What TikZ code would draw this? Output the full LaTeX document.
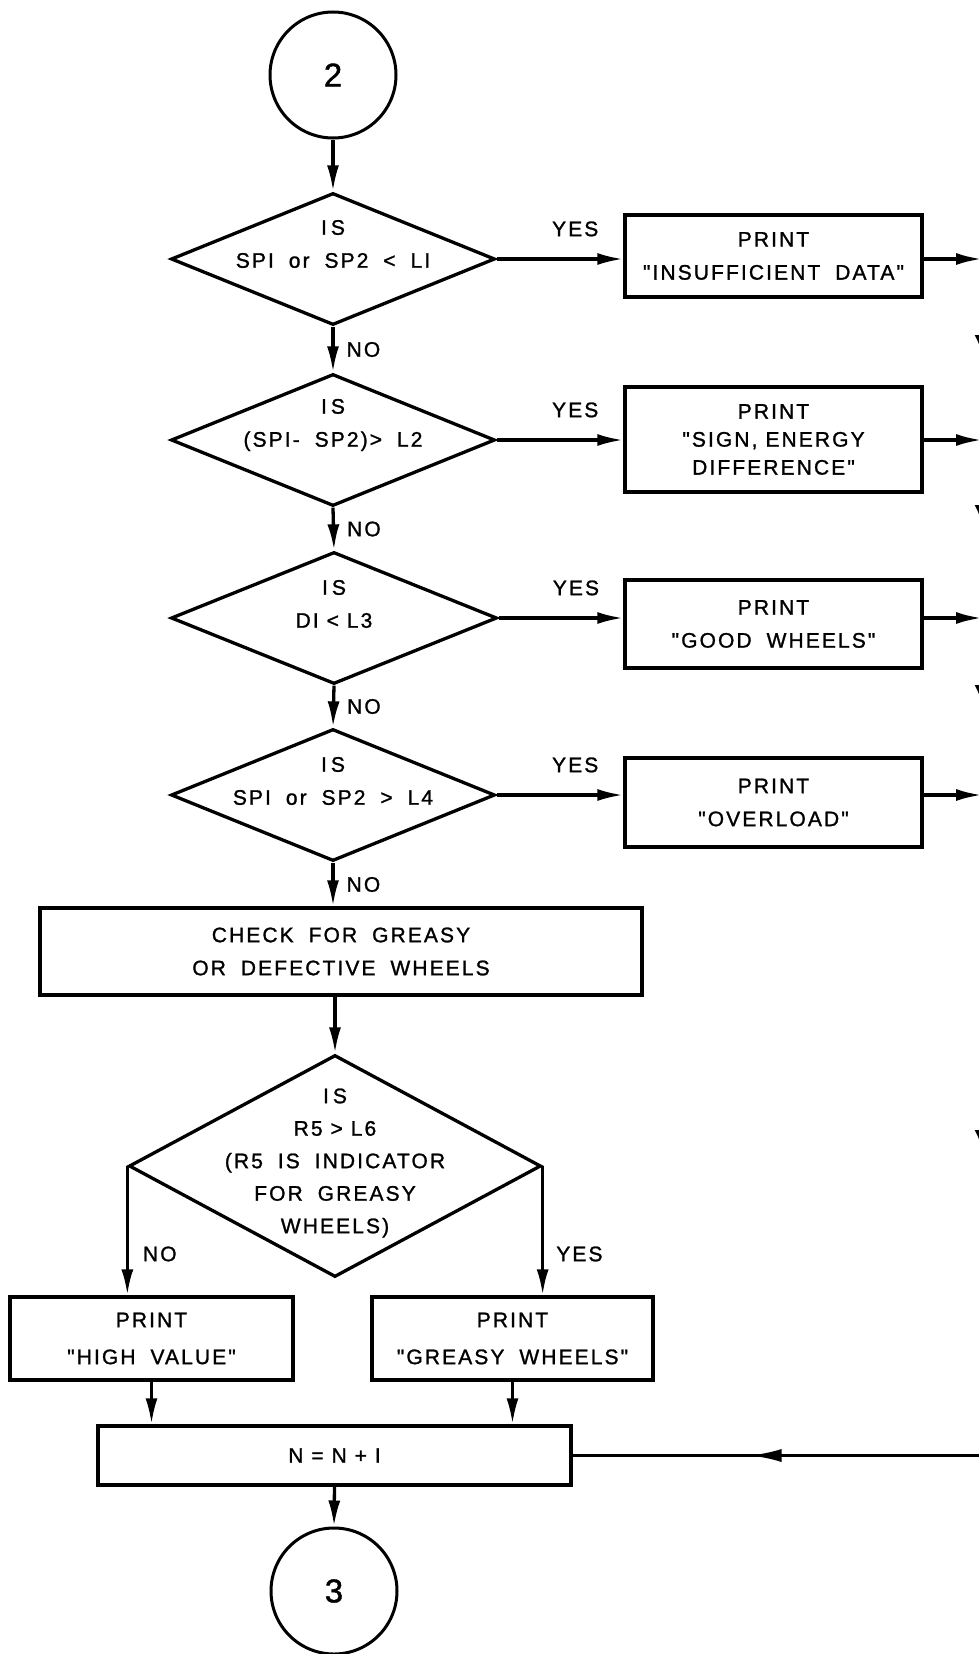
\documentclass[tikz,border=0pt]{standalone}
\usepackage{fontspec}
\newfontfamily\flowfont{Liberation Sans}[LetterSpace=10,FakeBold=1.2]
\usetikzlibrary{shapes.geometric,arrows.meta,decorations.markings}
\newcommand{\xs}{\hspace{7pt}}
\begin{document}
\begin{tikzpicture}[x=1pt,y=-1pt,
  every node/.style={font=\flowfont\fontsize{21}{33}\selectfont},
  ln/.style={line width=3.3pt},
  flowbox/.style={draw, line width=3.3pt, inner sep=0pt, align=center},
  decision/.style={draw, diamond, line width=3.3pt, inner sep=0pt},
  connector/.style={circle, draw, line width=3pt, minimum size=126pt, inner sep=0pt, font=\flowfont\fontsize{33}{33}\selectfont},
  conn/.style={line width=3.3pt, -{Latex[length=26pt,width=12pt]}},
  lab/.style={inner sep=0pt},
  dtext/.style={inner sep=0pt, align=center},
]
\useasboundingbox (0,0) rectangle (979,1654);
\fill[white] (0,0) rectangle (979,1654);
\begin{scope}
\clip (0,0) rectangle (979,1654);

% nodes
\node[connector] (c2) at (333,75) {2};
\node[decision, minimum width=324pt, minimum height=132pt] (d1) at (333,259) {};
\node[dtext] (t1) at (333,244) {I\kern4pt S\\SPI \xs or \xs SP2 \xs < \xs LI};
\node[decision, minimum width=324pt, minimum height=132pt] (d2) at (333,440) {};
\node[dtext] (t2) at (333,425) {I\kern4pt S\\(SPI- \xs SP2)> \xs L2};
\node[decision, minimum width=326pt, minimum height=132pt] (d3) at (334,618) {};
\node[dtext] (t3) at (334,604) {I\kern4pt S\\DI < L3};
\node[decision, minimum width=324pt, minimum height=132pt] (d4) at (333,795) {};
\node[dtext] (t4) at (333,781) {I\kern4pt S\\SPI \xs or \xs SP2 \xs > \xs L4};

\node[flowbox, minimum width=297pt, minimum height=82pt] (b1) at (773.5,256) {PRINT\\"INSUFFICIENT \xs DATA"};
\node[flowbox, minimum width=297pt, minimum height=105pt, font=\flowfont\fontsize{21}{28}\selectfont] (b2) at (773.5,439.5) {PRINT\\"SIGN, ENERGY\\DIFFERENCE"};
\node[flowbox, minimum width=297pt, minimum height=88pt] (b3) at (773.5,624) {PRINT\\"GOOD \xs WHEELS"};
\node[flowbox, minimum width=297pt, minimum height=89pt] (b4) at (773.5,802.5) {PRINT\\"OVERLOAD"};

\node[flowbox, minimum width=602pt, minimum height=87pt] (chk) at (341,951.5) {CHECK \xs FOR \xs GREASY\\OR \xs DEFECTIVE \xs WHEELS};
\node[decision, minimum width=412pt, minimum height=222pt] (d5) at (335,1166) {};
\node[dtext, font=\flowfont\fontsize{21}{32.5}\selectfont] (t5) at (335,1163) {I\kern4pt S\\R5 > L6\\(R5 \xs IS \xs INDICATOR\\FOR \xs GREASY\\WHEELS)};

\node[flowbox, minimum width=283pt, minimum height=83pt, font=\flowfont\fontsize{21}{37}\selectfont] (hv) at (151.5,1338.5) {PRINT\\"HIGH \xs VALUE"};
\node[flowbox, minimum width=281pt, minimum height=83pt, font=\flowfont\fontsize{21}{37}\selectfont] (gw) at (512.5,1338.5) {PRINT\\"GREASY \xs WHEELS"};
\node[flowbox, minimum width=473pt, minimum height=59pt] (n) at (334.5,1455.5) {N = N + I};
\node[connector] (c3) at (334,1591) {3};

\coordinate (rail) at (982,0);

% main column
\draw[conn] (c2) -- (d1.north);
\draw[conn] (d1.south) -- node[lab, right=12pt] (no1) {NO} (d2.north);
\draw[conn] (d2.south) -- node[lab, right=12pt] (no2) {NO} (d3.north);
\draw[conn] (d3.south) -- node[lab, right=12pt] (no3) {NO} (d4.north);
\draw[conn] (d4.south) -- node[lab, right=12pt] (no4) {NO} (d4.south |- chk.north);
\draw[conn] (d5.north |- chk.south) -- (d5.north);
\draw[conn] (d5.west) -- node[lab, pos=0.68, right=14pt] (no5) {NO} (d5.west |- hv.north);
\draw[conn] (d5.east) -- node[lab, pos=0.68, right=12pt] (yes5) {YES} (d5.east |- gw.north);
\draw[conn] (hv.south) -- (hv.south |- n.north);
\draw[conn] (gw.south) -- (gw.south |- n.north);
\draw[conn] (n.south) -- (c3.north);

% yes branches
\draw[conn] (d1.east) -- node[lab, pos=0.62, above=21pt] (yes1) {YES} (d1.east -| b1.west);
\draw[conn] (d2.east) -- node[lab, pos=0.62, above=21pt] (yes2) {YES} (d2.east -| b2.west);
\draw[conn] (d3.east) -- node[lab, pos=0.62, above=21pt] (yes3) {YES} (d3.east -| b3.west);
\draw[conn] (d4.east) -- node[lab, pos=0.62, above=21pt] (yes4) {YES} (d4.east -| b4.west);

% outputs to the return line at the right edge
\draw[conn] (b1.east |- d1.east) -- (rail |- d1.east);
\draw[conn] (b2.east |- d2.east) -- (rail |- d2.east);
\draw[conn] (b3.east |- d3.east) -- (rail |- d3.east);
\draw[conn] (b4.east |- d4.east) -- (rail |- d4.east);

\draw[ln, postaction={decorate}, decoration={markings,
    mark=at position 96pt with {\arrow{Latex[length=20pt,width=15pt]}},
    mark=at position 266pt with {\arrow{Latex[length=20pt,width=15pt]}},
    mark=at position 446pt with {\arrow{Latex[length=20pt,width=15pt]}},
    mark=at position 891pt with {\arrow{Latex[length=20pt,width=15pt]}},
    mark=at position 1429pt with {\arrow{Latex[length=32pt,width=13pt]}}}]
  (rail |- d1.east) -- (rail |- n.east) -- (n.east);
\end{scope}
\end{tikzpicture}
\end{document}
